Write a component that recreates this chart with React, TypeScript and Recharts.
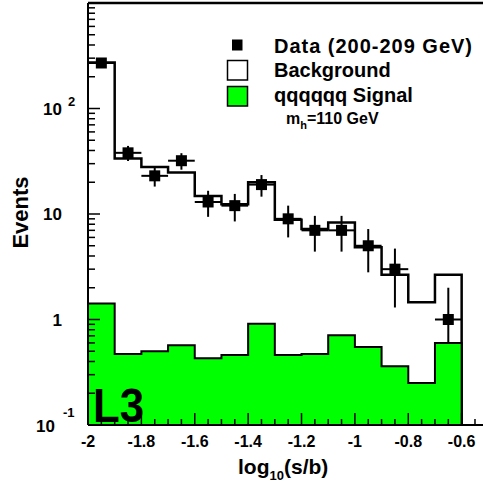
import React from "react";
import {
  ComposedChart,
  Area,
  Scatter,
  ErrorBar,
  XAxis,
  YAxis,
  ReferenceLine,
  Legend
} from "recharts";

// bin edges of log10(s/b), 14 bins of width 0.1
const binEdges = [-2, -1.9, -1.8, -1.7, -1.6, -1.5, -1.4, -1.3, -1.2, -1.1, -1, -0.9, -0.8, -0.7, -0.6];

const backgroundEvents = [273, 33.5, 27.9, 24.7, 14.8, 12.4, 20, 8.8, 7.2, 8.3, 4.85, 2.66, 1.46, 2.66];
const signalEvents = [1.42, 0.47, 0.5, 0.57, 0.43, 0.46, 0.91, 0.46, 0.47, 0.71, 0.55, 0.36, 0.25, 0.6];

const dataEvents = [270, 38, 23, 32, 13, 12, 19, 9, 7, 7, 5, 3, null, 1];
const dataErrLow = [16.4, 6.2, 4.8, 5.7, 3.6, 3.5, 4.4, 3, 2.6, 2.6, 2.2, 1.7, null, 0.4];
const dataErrHigh = [16.4, 6.2, 4.8, 5.7, 3.6, 3.5, 4.4, 3, 2.6, 2.6, 2.2, 1.7, null, 1];

const xTicks = [
  -2, -1.95, -1.9, -1.85, -1.8, -1.75, -1.7, -1.65, -1.6, -1.55, -1.5, -1.45, -1.4, -1.35,
  -1.3, -1.25, -1.2, -1.15, -1.1, -1.05, -1, -0.95, -0.9, -0.85, -0.8, -0.75, -0.7, -0.65,
  -0.6, -0.55
];
const yTicks = [
  0.1, 0.2, 0.3, 0.4, 0.5, 0.6, 0.7, 0.8, 0.9,
  1, 2, 3, 4, 5, 6, 7, 8, 9,
  10, 20, 30, 40, 50, 60, 70, 80, 90,
  100, 200, 300, 400, 500, 600, 700, 800, 900
];

const FONT = "'Liberation Sans', Arial, Helvetica, sans-serif";
const LOG_MIN = 0.1;

// histogram rows: stepAfter needs the last value repeated, then a drop to the floor
const histRows = binEdges.map((x, i) => ({
  x,
  bg: backgroundEvents[Math.min(i, backgroundEvents.length - 1)],
  sig: signalEvents[Math.min(i, signalEvents.length - 1)]
}));
histRows.push({ x: binEdges[binEdges.length - 1], bg: LOG_MIN, sig: LOG_MIN });

const dataPoints = dataEvents
  .map((n, i) =>
    n == null
      ? null
      : {
          x: (binEdges[i] + binEdges[i + 1]) / 2,
          y: n,
          ex: (binEdges[i + 1] - binEdges[i]) / 2,
          ey: [dataErrLow[i], dataErrHigh[i]]
        }
  )
  .filter(Boolean);

const XTick = (props: any) => {
  const { x, y, payload } = props;
  const v = payload.value;
  const major = Math.abs(v * 5 - Math.round(v * 5)) < 1e-6;
  return (
    <g>
      <line x1={x} x2={x} y1={y} y2={y - (major ? 12 : 6)} stroke="#000" strokeWidth={1.5} />
      {major && (
        <text x={x} y={y + 22} textAnchor="middle" fontFamily={FONT} fontWeight="bold" fontSize={16} fill="#000">
          {String(Number(v.toFixed(1)))}
        </text>
      )}
    </g>
  );
};

const YTick = (props: any) => {
  const { x, y, payload } = props;
  const v = payload.value;
  const exp = Math.floor(Math.log10(v) + 1e-9);
  const mant = v / Math.pow(10, exp);
  const major = Math.abs(mant - 1) < 1e-6;
  const style = { fontFamily: FONT, fontWeight: "bold" as const, fill: "#000" };
  let label = null;
  if (major && exp === 2) {
    label = (
      <g>
        <text x={x - 26} y={y + 6} textAnchor="end" fontSize={17} {...style}>10</text>
        <text x={x - 20} y={y - 3} fontSize={13} {...style}>2</text>
      </g>
    );
  } else if (major && exp === -1) {
    label = (
      <g>
        <text x={x - 33} y={y + 7} textAnchor="end" fontSize={17} {...style}>10</text>
        <text x={x - 25} y={y - 8} fontSize={13} {...style}>-1</text>
      </g>
    );
  } else if (major) {
    label = (
      <text x={x - 26} y={y + 6} textAnchor="end" fontSize={17} {...style}>
        {exp === 0 ? "1" : "10"}
      </text>
    );
  }
  return (
    <g>
      <line x1={x} x2={x + (major ? 12 : 7)} y1={y} y2={y} stroke="#000" strokeWidth={1.5} />
      {label}
    </g>
  );
};

// legend overlay (also carries the experiment tag, which sits above the filled signal)
const LegendBox = () => {
  const t = { fontFamily: FONT, fontWeight: "bold" as const, fill: "#000" };
  return (
    <svg width={483} height={488} style={{ display: "block", pointerEvents: "none" }}>
      <rect x={232} y={39.5} width={10.5} height={11} fill="#000" />
      <rect x={227.5} y={60.5} width={20} height={19.5} fill="#fff" stroke="#000" strokeWidth={1.5} />
      <rect x={227.5} y={86.5} width={20} height={19.5} fill="#00ff00" stroke="#000" strokeWidth={1.5} />
      <text x={274} y={53} fontSize={20} textLength={198} lengthAdjust="spacing" {...t}>Data (200-209 GeV)</text>
      <text x={274} y={77} fontSize={20} {...t}>Background</text>
      <text x={274} y={102} fontSize={20} {...t}>qqqqqq Signal</text>
      <text x={286} y={124} fontSize={16} {...t}>
        m<tspan fontSize={11} dy={5}>h</tspan>
        <tspan fontSize={16} dy={-5}>=110 GeV</tspan>
      </text>
      <text x={93} y={422} fontSize={48} textLength={51} lengthAdjust="spacingAndGlyphs" {...t}>
        L3
      </text>
    </svg>
  );
};

export default function App() {
  return (
    <div style={{ position: "absolute", left: 0, top: 0 }}>
      <ComposedChart
        width={483}
        height={488}
        data={histRows}
        margin={{ top: 3, right: 0, bottom: 0, left: 0 }}
      >
        <XAxis
          dataKey="x"
          type="number"
          domain={[-2, -0.52]}
          allowDataOverflow
          ticks={xTicks}
          interval={0}
          height={63}
          tickSize={0}
          tickMargin={0}
          tickLine={false}
          tick={<XTick />}
          axisLine={{ stroke: "#000", strokeWidth: 2 }}
        />
        <YAxis
          type="number"
          scale="log"
          domain={[LOG_MIN, 1000]}
          allowDataOverflow
          ticks={yTicks}
          interval={0}
          width={88}
          tickSize={0}
          tickMargin={0}
          tickLine={false}
          tick={<YTick />}
          axisLine={{ stroke: "#000", strokeWidth: 2 }}
        />

        <Area
          dataKey="bg"
          type="stepAfter"
          baseValue={LOG_MIN}
          stroke="#000"
          strokeWidth={2.5}
          fill="#fff"
          fillOpacity={1}
          dot={false}
          activeDot={false}
          isAnimationActive={false}
        />
        <Area
          dataKey="sig"
          type="stepAfter"
          baseValue={LOG_MIN}
          stroke="#000"
          strokeWidth={2}
          fill="#00ff00"
          fillOpacity={1}
          dot={false}
          activeDot={false}
          isAnimationActive={false}
        />
        <Scatter
          data={dataPoints}
          dataKey="y"
          isAnimationActive={false}
          shape={(p: any) => (
            <rect x={p.cx - 5.5} y={p.cy - 5.5} width={11} height={11} fill="#000" />
          )}
        >
          <ErrorBar dataKey="ey" direction="y" width={0} stroke="#000" strokeWidth={2} isAnimationActive={false} />
          <ErrorBar dataKey="ex" direction="x" width={0} stroke="#000" strokeWidth={2} isAnimationActive={false} />
        </Scatter>

        <ReferenceLine y={1000} stroke="#000" strokeWidth={2.5} />

        <Legend
          layout="horizontal"
          verticalAlign="middle"
          align="center"
          content={<LegendBox />}
          wrapperStyle={{ left: 0, top: 0, width: 483, height: 488, pointerEvents: "none" }}
        />

        <text
          x={28}
          y={212.5}
          transform="rotate(-90, 28, 212.5)"
          textAnchor="middle"
          fontSize={22}
          fontFamily={FONT}
          fontWeight="bold"
          fill="#000"
        >
          Events
        </text>
        <text x={238} y={474} fontSize={21} fontFamily={FONT} fontWeight="bold" fill="#000">
          log<tspan fontSize={13} dy={6}>10</tspan>
          <tspan fontSize={21} dy={-6}>(s/b)</tspan>
        </text>
      </ComposedChart>
    </div>
  );
}
